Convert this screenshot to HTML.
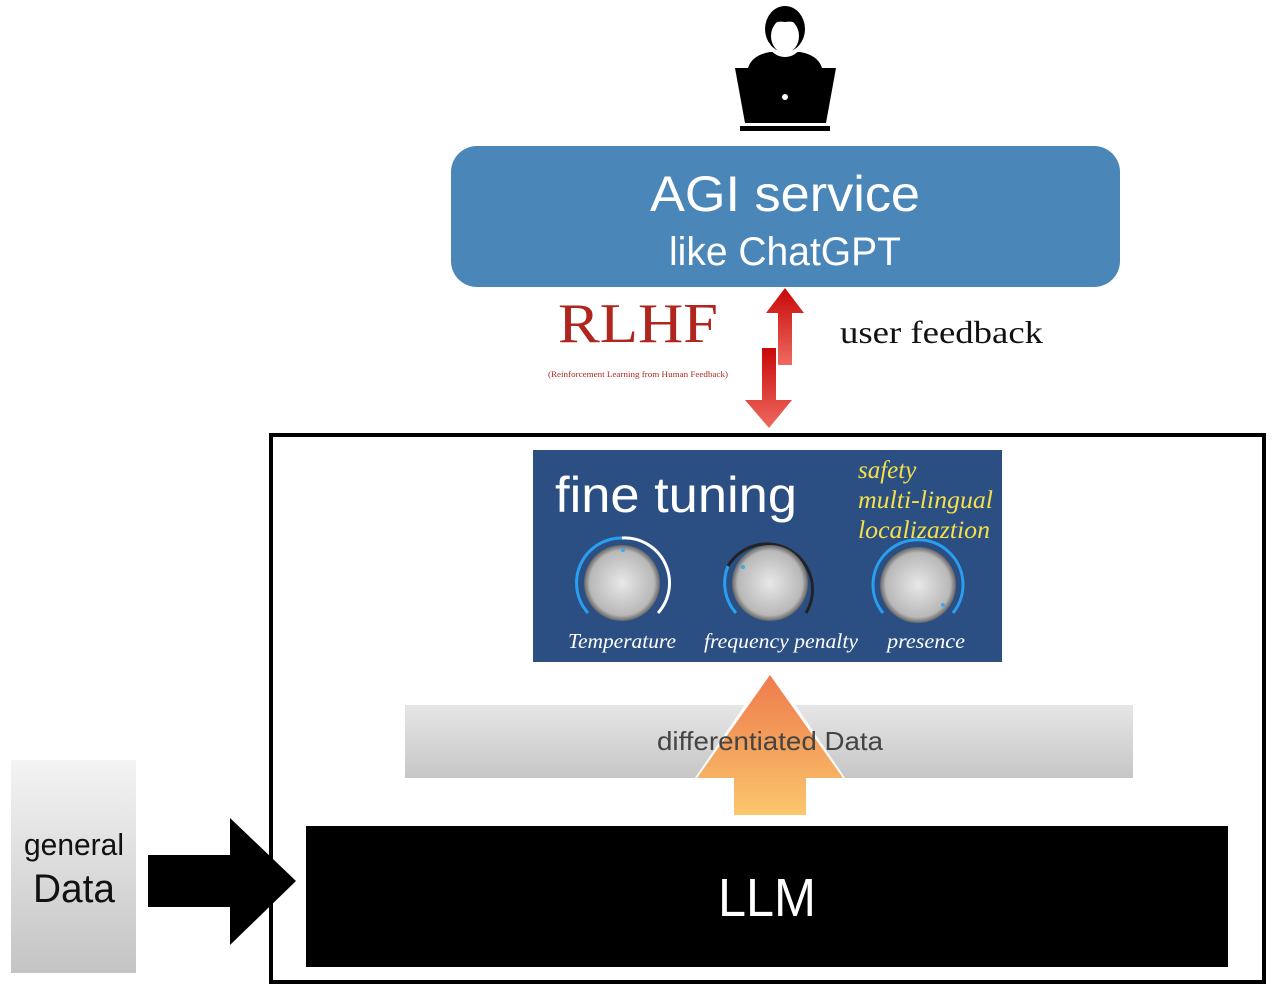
<!DOCTYPE html>
<html><head><meta charset="utf-8"><style>
html,body{margin:0;padding:0;background:#fff;}
svg{display:block;}
</style></head><body>
<svg width="1280" height="986" viewBox="0 0 1280 986" xmlns="http://www.w3.org/2000/svg">
<defs>
<linearGradient id="gd" x1="0" y1="0" x2="0" y2="1"><stop offset="0" stop-color="#f4f4f4"/><stop offset="1" stop-color="#c4c4c4"/></linearGradient>
<linearGradient id="dd" x1="0" y1="0" x2="0" y2="1"><stop offset="0" stop-color="#e6e6e6"/><stop offset="1" stop-color="#c6c6c6"/></linearGradient>
<linearGradient id="ra" x1="0" y1="0" x2="0" y2="1"><stop offset="0" stop-color="#c80808"/><stop offset="1" stop-color="#ee6a60"/></linearGradient>
<linearGradient id="oa" x1="0" y1="0" x2="0" y2="1"><stop offset="0" stop-color="#ea5a20"/><stop offset="1" stop-color="#fbb848"/></linearGradient>
<radialGradient id="kn" cx="0.5" cy="0.5" r="0.5"><stop offset="0" stop-color="#e8e8e8"/><stop offset="0.85" stop-color="#b8b8b8"/><stop offset="1" stop-color="#666"/></radialGradient>
</defs>
<!-- person -->
<path d="M748 68 Q752 55 770 52 L800 52 Q818 55 822 68Z" fill="#000"/>
<ellipse cx="785" cy="32" rx="21" ry="25" fill="#fff"/>
<ellipse cx="785" cy="29" rx="20" ry="23" fill="#000"/>
<ellipse cx="785" cy="36" rx="14" ry="17" fill="#fff"/>
<path d="M770 30 Q772 20 785 22 Q798 20 800 30 L804 30 Q804 10 785 8 Q766 10 766 30Z" fill="#000"/>
<path d="M735 68 L836 68 L826 123 L745 123Z" fill="#000"/>
<circle cx="785" cy="97" r="3" fill="#fff"/>
<rect x="740" y="126" width="90" height="5" fill="#000"/>
<!-- AGI box -->
<rect x="451" y="146" width="669" height="141" rx="26" fill="#4a86b8"/>
<text x="785" y="211" font-family="Liberation Sans, sans-serif" font-size="50" fill="#fff" text-anchor="middle" textLength="270" lengthAdjust="spacingAndGlyphs">AGI service</text>
<text x="785" y="265" font-family="Liberation Sans, sans-serif" font-size="40" fill="#fff" text-anchor="middle" textLength="232" lengthAdjust="spacingAndGlyphs">like ChatGPT</text>
<!-- RLHF -->
<text x="558" y="342" font-family="Liberation Serif, serif" font-size="56" fill="#b0261e" textLength="160" lengthAdjust="spacingAndGlyphs">RLHF</text>
<text x="548" y="377" font-family="Liberation Serif, serif" font-size="8" fill="#b0261e" textLength="180" lengthAdjust="spacingAndGlyphs">(Reinforcement Learning from Human Feedback)</text>
<text x="840" y="343" font-family="Liberation Serif, serif" font-size="32" fill="#111" textLength="203" lengthAdjust="spacingAndGlyphs">user feedback</text>
<!-- red arrows -->
<path d="M785 288 L804 313 L792 313 L792 365 L778 365 L778 313 L766 313Z" fill="url(#ra)"/>
<path d="M762 348 L776 348 L776 400 L792 400 L769 428 L745 400 L762 400Z" fill="url(#ra)"/>
<!-- frame -->
<rect x="271" y="435" width="993" height="547" fill="none" stroke="#000" stroke-width="4"/>
<!-- fine tuning -->
<rect x="533" y="450" width="469" height="212" fill="#2b4f82"/>
<text x="555" y="512" font-family="Liberation Sans, sans-serif" font-size="50" fill="#fff" textLength="242" lengthAdjust="spacingAndGlyphs">fine tuning</text>
<g font-family="Liberation Serif, serif" font-style="italic" font-size="25" fill="#f4e04a">
<text x="858" y="478">safety</text><text x="858" y="508" textLength="135" lengthAdjust="spacingAndGlyphs">multi-lingual</text><text x="858" y="538" textLength="132" lengthAdjust="spacingAndGlyphs">localizaztion</text></g>
<g fill="none" stroke-width="3">
<path d="M588 613 A45 45 0 0 1 622 538" stroke="#2a9ef0"/><path d="M622 538 A45 45 0 0 1 658 613" stroke="#fff"/>
<path d="M736 613 A45 45 0 0 1 728 566" stroke="#2a9ef0"/><path d="M728 566 A45 45 0 1 1 806 613" stroke="#222"/>
<path d="M883 613 A45 45 0 1 1 953 613" stroke="#2a9ef0"/>
</g>
<circle cx="622" cy="583" r="38" fill="url(#kn)"/><circle cx="770" cy="583" r="38" fill="url(#kn)"/><circle cx="918" cy="585" r="38" fill="url(#kn)"/>
<circle cx="623" cy="550" r="2" fill="#3aaaf0"/><circle cx="743" cy="567" r="2" fill="#3aaaf0"/><circle cx="943" cy="605" r="2" fill="#3aaaf0"/>
<g font-family="Liberation Serif, serif" font-style="italic" font-size="21" fill="#fff" text-anchor="middle">
<text x="622" y="648" textLength="108" lengthAdjust="spacingAndGlyphs">Temperature</text><text x="781" y="648" textLength="154" lengthAdjust="spacingAndGlyphs">frequency penalty</text><text x="926" y="648" textLength="78" lengthAdjust="spacingAndGlyphs">presence</text></g>
<!-- differentiated data -->
<rect x="405" y="705" width="728" height="73" fill="url(#dd)"/>
<path d="M770 668 L850 785 L815 785 L815 822 L726 822 L726 785 L690 785Z" fill="#fff" opacity="0.9"/>
<path d="M770 675 L843 778 L806 778 L806 815 L734 815 L734 778 L697 778Z" fill="url(#oa)" opacity="0.8"/>
<text x="770" y="750" font-family="Liberation Sans, sans-serif" font-size="26" fill="#444" text-anchor="middle" textLength="226" lengthAdjust="spacingAndGlyphs">differentiated Data</text>
<!-- LLM -->
<rect x="306" y="826" width="922" height="141" fill="#000"/>
<text x="767" y="916" font-family="Liberation Sans, sans-serif" font-size="54" fill="#fff" text-anchor="middle" textLength="98" lengthAdjust="spacingAndGlyphs">LLM</text>
<!-- general data -->
<rect x="11" y="760" width="125" height="213" fill="url(#gd)"/>
<text x="74" y="855" font-family="Liberation Sans, sans-serif" font-size="31" fill="#111" text-anchor="middle" textLength="100" lengthAdjust="spacingAndGlyphs">general</text>
<text x="74" y="902" font-family="Liberation Sans, sans-serif" font-size="40" fill="#111" text-anchor="middle" textLength="82" lengthAdjust="spacingAndGlyphs">Data</text>
<path d="M148 855 L230 855 L230 818 L296 881 L230 945 L230 907 L148 907Z" fill="#000"/>
</svg>
</body></html>
